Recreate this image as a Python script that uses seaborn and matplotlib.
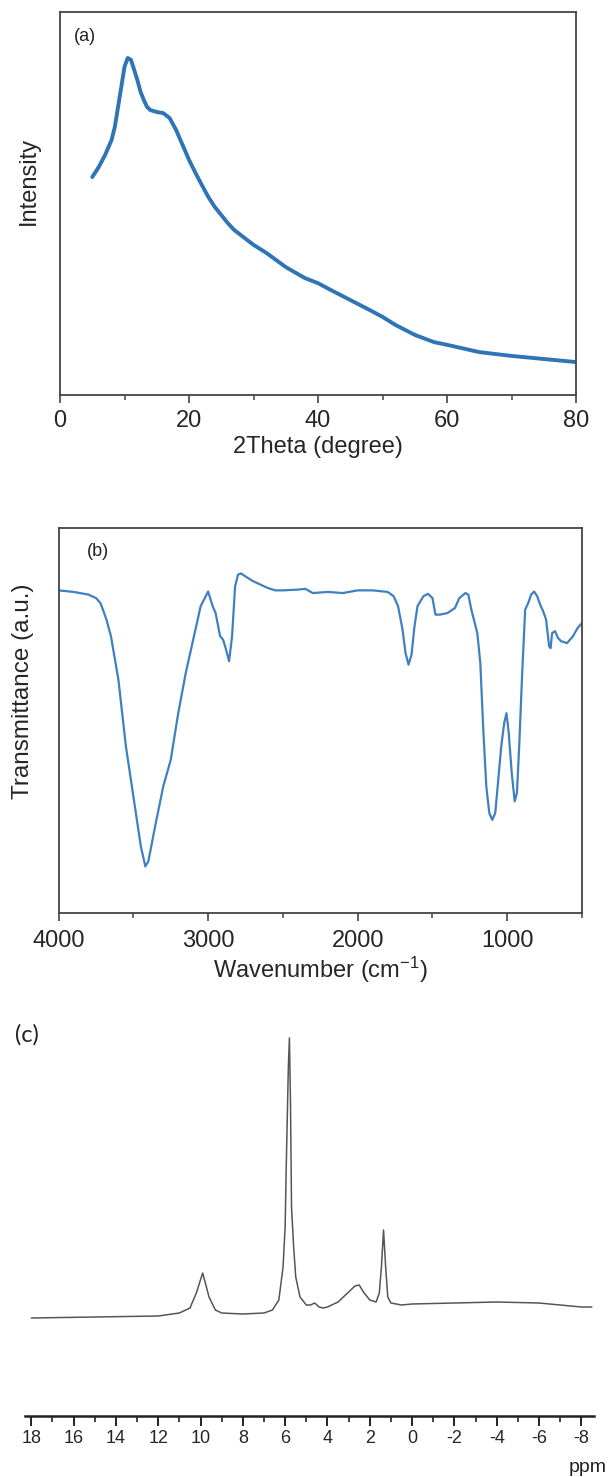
import numpy as np
import pandas as pd
import matplotlib
matplotlib.use("Agg")
import matplotlib.pyplot as plt
import seaborn as sns
from matplotlib.ticker import MultipleLocator

# ---------------- data ----------------
xrd_2theta = [5, 6, 7, 8, 8.5, 9, 9.5, 10, 10.5, 11, 11.5, 12, 12.5, 13, 13.5, 14, 15, 16,
              17, 18, 19, 20, 21, 22, 23, 24, 25, 26, 27, 28, 30, 32, 35, 38, 40, 42, 45,
              48, 50, 52, 55, 58, 60, 65, 70, 75, 80]
xrd_intensity = [0.569, 0.595, 0.627, 0.666, 0.700, 0.752, 0.804, 0.857, 0.880, 0.875,
                 0.849, 0.822, 0.791, 0.770, 0.752, 0.744, 0.739, 0.736, 0.723, 0.692,
                 0.653, 0.614, 0.580, 0.548, 0.517, 0.491, 0.470, 0.449, 0.431, 0.418,
                 0.392, 0.371, 0.334, 0.305, 0.292, 0.274, 0.248, 0.222, 0.204, 0.183,
                 0.157, 0.138, 0.131, 0.112, 0.102, 0.094, 0.086]

ir_wavenumber = [4000, 3900, 3800, 3750, 3720, 3700, 3680, 3650, 3600, 3550, 3500, 3450,
                 3420, 3400, 3350, 3300, 3250, 3200, 3150, 3100, 3050, 3000, 2970, 2950,
                 2920, 2900, 2880, 2860, 2840, 2820, 2800, 2780, 2750, 2700, 2650, 2600,
                 2550, 2500, 2400, 2350, 2300, 2200, 2100, 2000, 1900, 1800, 1760, 1730,
                 1700, 1680, 1660, 1640, 1620, 1600, 1560, 1530, 1500, 1480, 1450, 1400,
                 1350, 1320, 1280, 1260, 1240, 1200, 1180, 1160, 1140, 1120, 1100, 1080,
                 1060, 1040, 1020, 1005, 990, 970, 950, 935, 920, 900, 880, 860, 840, 820,
                 800, 780, 760, 740, 720, 710, 700, 680, 660, 640, 600, 560, 530, 500]
ir_transmittance = [0.838, 0.834, 0.827, 0.818, 0.805, 0.784, 0.762, 0.719, 0.606, 0.433,
                    0.303, 0.173, 0.121, 0.134, 0.234, 0.329, 0.398, 0.519, 0.623, 0.710,
                    0.797, 0.835, 0.797, 0.779, 0.719, 0.710, 0.684, 0.654, 0.719, 0.848,
                    0.879, 0.882, 0.874, 0.862, 0.853, 0.844, 0.838, 0.838, 0.840, 0.842,
                    0.831, 0.834, 0.831, 0.838, 0.838, 0.834, 0.823, 0.797, 0.736, 0.675,
                    0.645, 0.671, 0.745, 0.797, 0.823, 0.829, 0.818, 0.775, 0.775, 0.779,
                    0.792, 0.818, 0.831, 0.827, 0.788, 0.727, 0.649, 0.476, 0.329, 0.260,
                    0.242, 0.260, 0.346, 0.433, 0.494, 0.519, 0.468, 0.364, 0.290, 0.312,
                    0.433, 0.623, 0.788, 0.805, 0.827, 0.835, 0.823, 0.801, 0.784, 0.762,
                    0.693, 0.688, 0.727, 0.732, 0.714, 0.706, 0.701, 0.719, 0.740, 0.753]

nmr_ppm = [18, 15, 12, 11, 10.5, 10.2, 9.9, 9.6, 9.3, 9, 8, 7, 6.6, 6.3, 6.1, 6.0, 5.95,
           5.85, 5.8, 5.75, 5.7, 5.6, 5.5, 5.3, 5.0, 4.8, 4.6, 4.4, 4.2, 4.0, 3.5, 3.0, 2.7,
           2.5, 2.3, 2.0, 1.7, 1.55, 1.45, 1.35, 1.25, 1.15, 1.0, 0.5, 0, -2, -4, -6, -8,
           -8.5]
nmr_signal = [98, 99, 100, 103, 108, 123, 143, 119, 106, 103, 102, 103, 106, 116, 149, 190,
              249, 349, 378, 316, 209, 169, 139, 119, 111, 111, 113, 109, 108, 109, 114, 124,
              130, 131, 124, 116, 114, 123, 149, 186, 149, 119, 113, 111, 112, 113, 114, 113,
              109, 109]

xrd_ticks = [0, 20, 40, 60, 80]
ir_ticks = [4000, 3000, 2000, 1000]
nmr_ticks = list(range(18, -9, -2))

# ---------------- styling ----------------
sns.set_theme(style="ticks")
plt.rcParams["font.family"] = ["Liberation Sans", "DejaVu Sans"]
plt.rcParams["mathtext.fontset"] = "custom"
plt.rcParams["mathtext.rm"] = "Liberation Sans"
plt.rcParams["mathtext.default"] = "regular"

W, H = 610, 1477
fig = plt.figure(figsize=(W / 100, H / 100), dpi=100)
fig.patch.set_facecolor("white")

def frac_box(left, top, right, bottom):
    return [left / W, 1 - bottom / H, (right - left) / W, (bottom - top) / H]

spine_col = "#444444"

# ---- (a) XRD ----
ax1 = fig.add_axes(frac_box(60, 12, 576, 395))
sns.lineplot(x=xrd_2theta, y=xrd_intensity, ax=ax1, color="#2f74b5", linewidth=2.8)
ax1.set_xlim(0, 80)
ax1.set_ylim(0, 1)
ax1.set_xticks(xrd_ticks)
ax1.xaxis.set_minor_locator(MultipleLocator(10))
ax1.set_yticks([])
ax1.set_xlabel("2Theta (degree)", fontsize=17, labelpad=3)
ax1.set_ylabel("Intensity", fontsize=17)
ax1.yaxis.set_label_coords(-0.039, 0.56)
ax1.text(0.048, 0.935, "(a)", transform=ax1.transAxes, fontsize=13, ha="center", va="center",
         color="#222222")

# ---- (b) FTIR ----
ax2 = fig.add_axes(frac_box(58.6, 528, 582, 913))
sns.lineplot(x=ir_wavenumber, y=ir_transmittance, ax=ax2, color="#3f80c2", linewidth=1.6)
ax2.set_xlim(4000, 500)
ax2.set_ylim(0, 1)
ax2.set_xticks(ir_ticks)
ax2.xaxis.set_minor_locator(MultipleLocator(500))
ax2.set_yticks([])
ax2.set_xlabel("Wavenumber (cm$^{-1}$)", fontsize=17, labelpad=2)
ax2.set_ylabel("Transmittance (a.u.)", fontsize=17.5)
ax2.yaxis.set_label_coords(-0.047, 0.577)
ax2.text(0.075, 0.938, "(b)", transform=ax2.transAxes, fontsize=13, ha="center", va="center",
         color="#222222")

for ax, pad in ((ax1, 5), (ax2, 6)):
    for s in ax.spines.values():
        s.set_color(spine_col)
        s.set_linewidth(1.3)
    ax.tick_params(axis="x", which="major", direction="out", length=6, width=1.2,
                   color=spine_col, labelsize=17, pad=pad)
    ax.tick_params(axis="x", which="minor", direction="out", length=3.5, width=1.1,
                   color=spine_col)
    ax.set_facecolor("white")

# ---- (c) NMR ----
ax3 = fig.add_axes(frac_box(25, 1030, 594, 1416))
sns.lineplot(x=nmr_ppm, y=nmr_signal, ax=ax3, color="#555555", linewidth=1.1)
ax3.set_xlim(18.3, -8.6)
ax3.set_ylim(0, 386)
ax3.set_xticks(nmr_ticks)
ax3.set_xticklabels([str(t) for t in nmr_ticks])
ax3.xaxis.set_minor_locator(MultipleLocator(1))
ax3.set_yticks([])
ax3.set_xlabel("")
ax3.set_ylabel("")
for side in ("top", "right", "left"):
    ax3.spines[side].set_visible(False)
ax3.spines["bottom"].set_color("#222222")
ax3.spines["bottom"].set_linewidth(1.8)
ax3.tick_params(axis="x", which="major", direction="out", length=7, width=1.4,
                color="#222222", labelsize=13, pad=3)
ax3.tick_params(axis="x", which="minor", direction="out", length=4, width=1.2,
                color="#222222")
ax3.set_facecolor("white")

fig.text(0.995, 1 - 1468 / H, "ppm", fontsize=14, ha="right", va="center", color="#222222")
fig.text(27 / W, 1 - 1035 / H, "(c)", fontsize=17, ha="center", va="center",
         family=["Lato", "DejaVu Sans"], color="#222222")

fig.savefig("out.png", dpi=100, facecolor="white")
